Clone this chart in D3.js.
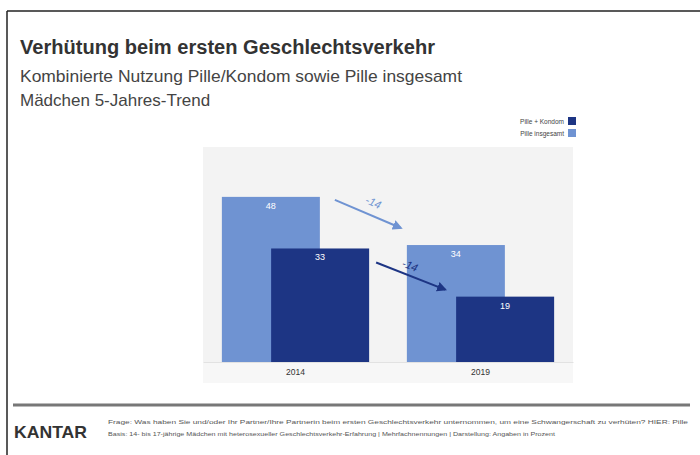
<!DOCTYPE html>
<html>
<head>
<meta charset="utf-8">
<script src="https://cdn.jsdelivr.net/npm/d3@7"></script>
<style>
  body { margin: 0; background: #fff; }
  text { font-family: "Liberation Sans", Arial, sans-serif; }
</style>
</head>
<body>
<svg id="chart" width="700" height="455"></svg>
<script>
const years = ['2014', '2019'];
const series = ['Pille insgesamt', 'Pille + Kondom'];
const pilleGesamt = [48, 34];
const pilleKondom = [33, 19];
const changeLabels = ['-14', '-14'];

const colors = {'Pille insgesamt': '#6f93d2', 'Pille + Kondom': '#1d3584'};

const svg = d3.select('#chart');

// frame: only top and left lines visible
svg.append('line').attr('x1', 7).attr('x2', 700).attr('y1', 11).attr('y2', 11)
  .attr('stroke', '#222').attr('stroke-width', 1.5);
svg.append('line').attr('x1', 7).attr('x2', 7).attr('y1', 11).attr('y2', 455)
  .attr('stroke', '#222').attr('stroke-width', 1.5);

svg.append('text').attr('x', 20).attr('y', 54)
  .attr('font-size', 19.5).attr('font-weight', 'bold').attr('fill', '#333')
  .attr('textLength', 415).attr('lengthAdjust', 'spacingAndGlyphs')
  .text('Verhütung beim ersten Geschlechtsverkehr');
svg.append('text').attr('x', 20).attr('y', 82)
  .attr('font-size', 17).attr('fill', '#444')
  .attr('textLength', 442).attr('lengthAdjust', 'spacingAndGlyphs')
  .text('Kombinierte Nutzung Pille/Kondom sowie Pille insgesamt');
svg.append('text').attr('x', 20).attr('y', 106)
  .attr('font-size', 17).attr('fill', '#444')
  .text('Mädchen 5-Jahres-Trend');

// plot panel
const panel = {left: 203, right: 573, top: 147, bottom: 362};
svg.append('rect').attr('x', panel.left).attr('y', panel.top)
  .attr('width', panel.right - panel.left).attr('height', 236)
  .attr('fill', '#f3f3f3');
svg.append('rect').attr('x', panel.left).attr('y', panel.bottom)
  .attr('width', panel.right - panel.left).attr('height', 21)
  .attr('fill', '#f7f7f7');

const x = d3.scaleBand().domain(years).range([panel.left, panel.right])
  .paddingInner(0.204).paddingOuter(0.102);
const y = d3.scaleLinear().domain([0, 62.5]).range([panel.bottom, panel.top]);
const barW = 98;
const sub = d3.scalePoint().domain(series).range([0, x.bandwidth() - barW]);

const rows = [];
years.forEach((yr, i) => {
  rows.push({year: yr, s: 'Pille insgesamt', v: pilleGesamt[i]});
  rows.push({year: yr, s: 'Pille + Kondom', v: pilleKondom[i]});
});

const bars = svg.append('g');
bars.selectAll('rect').data(rows).join('rect')
  .attr('x', d => x(d.year) + sub(d.s))
  .attr('y', d => y(d.v))
  .attr('width', barW)
  .attr('height', d => y(0) - y(d.v))
  .attr('fill', d => colors[d.s]);

bars.selectAll('text').data(rows).join('text')
  .attr('x', d => x(d.year) + sub(d.s) + barW / 2)
  .attr('y', d => y(d.v) + 12)
  .attr('text-anchor', 'middle')
  .attr('font-size', 9).attr('fill', '#fff')
  .text(d => d.v);

// axis labels
const xAxis = d3.axisBottom(x).tickSize(0).tickPadding(7);
const gx = svg.append('g').attr('transform', `translate(0,${panel.bottom})`).call(xAxis);
gx.select('.domain').attr('stroke', '#e2e2e2');
gx.selectAll('text').attr('font-size', 8.5).attr('fill', '#333')
  .attr('font-family', '"Liberation Sans", Arial, sans-serif');

// change arrows (offsets from bar corners)
const arrowOff = {
  'Pille insgesamt': {sx: 15, sy: 3, ex: -6, ey: -17, lx: 4, ly: -8},
  'Pille + Kondom': {sx: 7, sy: 14, ex: -11, ey: -7, lx: -2, ly: -7}
};
const defs = svg.append('defs');
series.forEach((s, k) => {
  defs.append('marker').attr('id', 'arr' + k)
    .attr('viewBox', '0 0 10 10').attr('refX', 8).attr('refY', 5)
    .attr('markerWidth', 5).attr('markerHeight', 5).attr('orient', 'auto')
    .append('path').attr('d', 'M0,0L10,5L0,10z').attr('fill', colors[s]);
});
const vals = {'Pille insgesamt': pilleGesamt, 'Pille + Kondom': pilleKondom};
series.forEach((s, k) => {
  const v = vals[s], o = arrowOff[s];
  const x1 = x(years[0]) + sub(s) + barW + o.sx;
  const y1 = y(v[0]) + o.sy;
  const x2 = x(years[1]) + sub(s) + o.ex;
  const y2 = y(v[1]) + o.ey;
  svg.append('line').attr('x1', x1).attr('y1', y1).attr('x2', x2).attr('y2', y2)
    .attr('stroke', colors[s]).attr('stroke-width', 2)
    .attr('marker-end', `url(#arr${k})`);
  const ang = Math.atan2(y2 - y1, x2 - x1) * 180 / Math.PI;
  const mx = (x1 + x2) / 2 + o.lx, my = (y1 + y2) / 2 + o.ly;
  svg.append('text').attr('transform', `translate(${mx},${my}) rotate(${ang})`)
    .attr('text-anchor', 'middle').attr('font-size', 11).attr('font-style', 'italic')
    .attr('fill', colors[s]).text(changeLabels[k]);
});

// legend
const legend = svg.append('g');
['Pille + Kondom', 'Pille insgesamt'].forEach((s, i) => {
  const ly = 121 + i * 12;
  legend.append('text').attr('x', 564).attr('y', ly + 3)
    .attr('text-anchor', 'end').attr('font-size', 6.5).attr('fill', '#444').text(s);
  legend.append('rect').attr('x', 568).attr('y', ly - 4).attr('width', 8).attr('height', 8)
    .attr('fill', colors[s]);
});

// footer
svg.append('line').attr('x1', 13).attr('x2', 690).attr('y1', 405).attr('y2', 405)
  .attr('stroke', '#777').attr('stroke-width', 3);
svg.append('text').attr('x', 14).attr('y', 438)
  .attr('font-size', 17).attr('font-weight', 'bold').attr('fill', '#333')
  .attr('textLength', 73).attr('lengthAdjust', 'spacingAndGlyphs').text('KANTAR');
svg.append('text').attr('x', 108).attr('y', 424).attr('font-size', 6.2).attr('fill', '#555')
  .attr('textLength', 580).attr('lengthAdjust', 'spacingAndGlyphs')
  .text('Frage: Was haben Sie und/oder Ihr Partner/Ihre Partnerin beim ersten Geschlechtsverkehr unternommen, um eine Schwangerschaft zu verhüten? HIER: Pille');
svg.append('text').attr('x', 108).attr('y', 436).attr('font-size', 6.2).attr('fill', '#555')
  .attr('textLength', 447).attr('lengthAdjust', 'spacingAndGlyphs')
  .text('Basis: 14- bis 17-jährige Mädchen mit heterosexueller Geschlechtsverkehr-Erfahrung | Mehrfachnennungen | Darstellung: Angaben in Prozent');
</script>
</body>
</html>
